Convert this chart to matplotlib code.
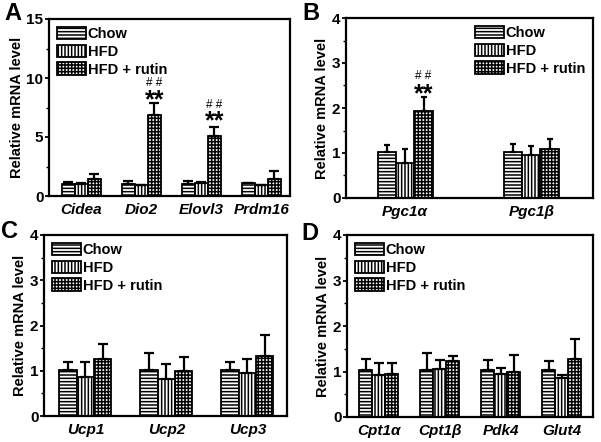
import numpy as np
import matplotlib.pyplot as plt
from matplotlib.ticker import MultipleLocator

plt.rcParams['font.family'] = ['Liberation Sans', 'DejaVu Sans']
plt.rcParams['font.weight'] = 'bold'
plt.rcParams['hatch.linewidth'] = 1.1

################################################################################
# Data
################################################################################
groups = ['Chow', 'HFD', 'HFD + rutin']
hatches = ['-----', '|||||', '+++++']

genes_a = ['Cidea', 'Dio2', 'Elovl3', 'Prdm16']
mean_a = [[1.02, 1.02, 1.00, 1.08],
          [1.00, 0.95, 1.08, 0.95],
          [1.42, 6.90, 5.06, 1.42]]
err_a = [[0.20, 0.28, 0.28, 0.02],
         [0.12, 0.00, 0.12, 0.00],
         [0.45, 0.97, 0.82, 0.74]]

genes_b = ['Pgc1α', 'Pgc1β']
mean_b = [[1.02, 1.02],
          [0.77, 0.96],
          [1.93, 1.08]]
err_b = [[0.16, 0.19],
         [0.31, 0.19],
         [0.31, 0.22]]

genes_c = ['Ucp1', 'Ucp2', 'Ucp3']
mean_c = [[1.02, 1.02, 1.02],
          [0.87, 0.82, 0.94],
          [1.27, 0.99, 1.33]]
err_c = [[0.17, 0.38, 0.17],
         [0.32, 0.34, 0.31],
         [0.32, 0.31, 0.46]]

genes_d = ['Cpt1α', 'Cpt1β', 'Pdk4', 'Glut4']
mean_d = [[1.03, 1.03, 1.03, 1.03],
          [0.92, 1.05, 0.95, 0.85],
          [0.94, 1.22, 0.98, 1.27]]
err_d = [[0.25, 0.38, 0.22, 0.19],
         [0.26, 0.20, 0.13, 0.07],
         [0.25, 0.13, 0.39, 0.45]]

# significance marks: (gene index, y of **, y of ##)
sig_a = [(1, 8.15, 9.55), (2, 6.3, 7.7)]
sig_b = [(0, 2.3, 2.72)]


################################################################################
# Plot
################################################################################
def bar_panel(ax, genes, means, errs, width, ymax, major, xlim):
    x = np.arange(len(genes))
    for i in range(3):
        xi = x + (i - 1) * width
        ax.bar(xi, means[i], width, color='white', edgecolor='black',
               linewidth=1.3, hatch=hatches[i], label=groups[i], zorder=2)
        ax.errorbar(xi, means[i], yerr=[np.zeros(len(genes)), errs[i]],
                    fmt='none', ecolor='black', elinewidth=1.6,
                    capsize=width * 16, capthick=1.6, zorder=3)
    ax.set_xlim(xlim)
    ax.set_ylim(0, ymax)
    ax.set_xticks(x)
    ax.set_xticklabels(genes, fontsize=11, fontstyle='italic', fontweight='bold')
    ax.tick_params(axis='x', length=0, pad=5)
    ax.yaxis.set_major_locator(MultipleLocator(major))
    ax.yaxis.set_minor_locator(MultipleLocator(major / 2))
    ax.tick_params(axis='y', which='major', length=3, width=1.3, labelsize=11, pad=1)
    ax.tick_params(axis='y', which='minor', length=2, width=1.0)
    for s in ax.spines.values():
        s.set_linewidth(1.6)
    ax.set_ylabel('Relative mRNA level', fontsize=10.5, fontweight='bold', labelpad=2)


fig = plt.figure(figsize=(6.01, 4.42), dpi=100)

axA = fig.add_axes([49/601, 1-196/442, 241/601, 177/442])
axB = fig.add_axes([346/601, 1-198/442, 247/601, 180/442])
axC = fig.add_axes([44/601, 1-416/442, 243/601, 181/442])
axD = fig.add_axes([347/601, 1-417/442, 246/601, 182/442])

bar_panel(axA, genes_a, mean_a, err_a, 0.215, 15, 5, (-0.54, 3.48))
bar_panel(axB, genes_b, mean_b, err_b, 0.145, 4, 1, (-0.47, 1.49))
bar_panel(axC, genes_c, mean_c, err_c, 0.215, 4, 1, (-0.51, 2.49))
bar_panel(axD, genes_d, mean_d, err_d, 0.213, 4, 1, (-0.52, 3.51))

# panel letters
for letter, px, py in [('A', 13, 13), ('B', 311, 13), ('C', 9, 232), ('D', 310, 233)]:
    fig.text(px/601, 1-py/442, letter, fontsize=17, fontweight='bold',
             ha='center', va='center')

for gi, ystar, yhash in sig_a:
    axA.text(gi + 0.215, ystar, '**', ha='center', va='center', fontsize=18, fontweight='bold')
    axA.text(gi + 0.215, yhash, '# #', ha='center', va='center', fontsize=8.5, fontweight='normal')
for gi, ystar, yhash in sig_b:
    axB.text(gi + 0.145, ystar, '**', ha='center', va='center', fontsize=18, fontweight='bold')
    axB.text(gi + 0.145, yhash, '# #', ha='center', va='center', fontsize=8.5, fontweight='normal')

leg_kw = dict(frameon=False, fontsize=10.5, handlelength=2.0, handleheight=0.9,
              handletextpad=0.1, labelspacing=0.25, borderaxespad=0.15)
axA.legend(loc='upper left', **leg_kw)
axB.legend(loc='upper right', **leg_kw)
axC.legend(loc='upper left', **leg_kw)
axD.legend(loc='upper left', **leg_kw)

plt.savefig('out.png', dpi=100)
